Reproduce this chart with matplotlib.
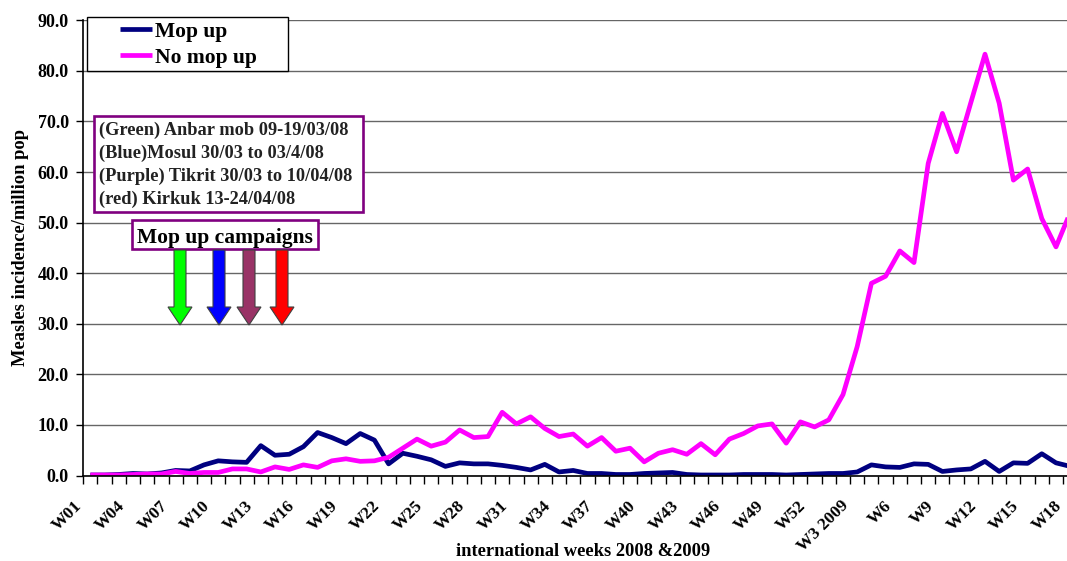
import numpy as np
import matplotlib
matplotlib.use("Agg")
import matplotlib.pyplot as plt
from matplotlib.patches import Rectangle, Polygon
from matplotlib.transforms import ScaledTranslation

# weekly values (W01 2008 .. W18 2009)
mop_up = [0.1, 0.1, 0.2, 0.4, 0.3, 0.5, 1.0, 0.9, 2.1, 2.9,
          2.7, 2.6, 5.9, 4.0, 4.2, 5.7, 8.5, 7.5, 6.3, 8.3,
          7.0, 2.3, 4.4, 3.8, 3.1, 1.8, 2.5, 2.3, 2.3, 2.0,
          1.6, 1.1, 2.2, 0.7, 1.0, 0.4, 0.4, 0.2, 0.2, 0.4,
          0.5, 0.6, 0.2, 0.1, 0.1, 0.1, 0.2, 0.2, 0.2, 0.1,
          0.2, 0.3, 0.4, 0.4, 0.7, 2.1, 1.7, 1.6, 2.3, 2.2,
          0.8, 1.1, 1.3, 2.8, 0.8, 2.5, 2.4, 4.3, 2.5, 1.8]
no_mop_up = [0.1, 0.1, 0.1, 0.2, 0.3, 0.3, 0.8, 0.4, 0.6, 0.6,
             1.3, 1.3, 0.7, 1.7, 1.2, 2.1, 1.6, 2.9, 3.3, 2.8,
             2.9, 3.6, 5.4, 7.2, 5.8, 6.6, 9.0, 7.5, 7.7, 12.5,
             10.2, 11.6, 9.3, 7.7, 8.2, 5.8, 7.5, 4.8, 5.4, 2.7,
             4.4, 5.1, 4.2, 6.3, 4.1, 7.2, 8.3, 9.8, 10.2, 6.4,
             10.6, 9.6, 11.0, 16.0, 25.5, 38.0, 39.4, 44.4, 42.1, 61.7,
             71.6, 64.0, 73.7, 83.3, 73.6, 58.4, 60.6, 50.8, 45.2, 52.0]
tick_labels = ["W01", "W04", "W07", "W10", "W13", "W16", "W19", "W22", "W25",
               "W28", "W31", "W34", "W37", "W40", "W43", "W46", "W49", "W52",
               "W3 2009", "W6", "W9", "W12", "W15", "W18"]
campaigns = ["(Green) Anbar mob 09-19/03/08",
             "(Blue)Mosul 30/03 to 03/4/08",
             "(Purple) Tikrit 30/03 to 10/04/08",
             "(red) Kirkuk 13-24/04/08"]
arrow_colors = ["#00FF00", "#0000FF", "#993366", "#FF0000"]

W, H = 1067, 561
serif = "Liberation Serif"
plt.rcParams["font.family"] = serif
plt.rcParams["font.weight"] = "bold"
plt.rcParams["axes.labelweight"] = "bold"

n = len(mop_up)
step = 14.2  # px per week
x0 = 83.3
fig = plt.figure(figsize=(W / 100, H / 100), dpi=100)
# plot area runs a little past the right edge of the picture (cropped)
ax = fig.add_axes([x0 / W, 1 - 475.5 / H, n * step / W, (475.5 - 20.3) / H])

x = np.arange(n)
l1, = ax.plot(x, mop_up, color="#000080", lw=3.4, label="Mop up", solid_capstyle="butt")
l2, = ax.plot(x, no_mop_up, color="#FF00FF", lw=3.4, label="No mop up", solid_capstyle="butt")

ax.set_yticks(np.arange(0, 91, 10))
ax.set_yticklabels([f"{v:.1f}" for v in np.arange(0, 91, 10)])
ax.yaxis.grid(True, color="#666666", lw=1)
ax.set_axisbelow(True)
for s in ["top", "right"]:
    ax.spines[s].set_visible(False)
ax.spines["left"].set_linewidth(1.2)
ax.spines["bottom"].set_linewidth(1.2)
ax.tick_params(axis="y", length=5, width=1, pad=5.5, labelsize=13)

ax.set_xticks(np.arange(0, n, 3))
ax.set_xticklabels(tick_labels, rotation=45, ha="right", va="top", fontsize=12.5)
ax.set_xticks(np.arange(-0.5, n, 1), minor=True)
ax.tick_params(axis="x", which="major", length=0, pad=16)
ax.tick_params(axis="x", which="minor", length=6, width=1)
off = ScaledTranslation(-5 / 100, 0, fig.dpi_scale_trans)
for lab in ax.get_xticklabels():
    lab.set_transform(lab.get_transform() + off)
ax.set_xlim(-0.5, n - 0.5)
ax.set_ylim(0, 90)

ax.set_xlabel("international weeks 2008 &2009", fontsize=13.3)
ax.xaxis.set_label_coords((583 - x0) / (n * step), -0.148)
ax.set_ylabel("Measles incidence/million pop", fontsize=13.3)
ax.yaxis.set_label_coords((29 - x0) / (n * step), 0.5)


def fx(px):
    return px / W


def fy(py):
    return 1 - py / H


# legend
fig.add_artist(Rectangle((fx(87), fy(71)), fx(288) - fx(87), fy(17) - fy(71),
                         transform=fig.transFigure, fill=True, fc="white",
                         ec="black", lw=1, zorder=5))
leg = fig.legend(handles=[l1, l2], loc="upper left", bbox_to_anchor=(fx(120), fy(21.5)),
                 frameon=False, borderpad=0, borderaxespad=0,
                 handlelength=1.48, handletextpad=0.14, labelspacing=0.29,
                 prop={"family": serif, "weight": "bold", "size": 15.5})
leg.set_zorder(6)

# campaign box
fig.add_artist(Rectangle((fx(94), fy(212)), fx(363) - fx(94), fy(116) - fy(212),
                         transform=fig.transFigure, fill=True, fc="white",
                         ec="#800080", lw=1.9, zorder=5))
for k, txt in enumerate(campaigns):
    fig.text(fx(99), fy(135 + 23 * k), txt, fontsize=13.2, color="#222222",
             va="baseline", ha="left", zorder=6)

fig.add_artist(Rectangle((fx(132), fy(249)), fx(318) - fx(132), fy(220) - fy(249),
                         transform=fig.transFigure, fill=True, fc="white",
                         ec="#800080", lw=1.9, zorder=5))
fig.text(fx(137), fy(243), "Mop up campaigns", fontsize=15.5, color="black",
         va="baseline", ha="left", zorder=6)

# down arrows
for cx, col in zip([180, 219, 249, 282], arrow_colors):
    pts = [(cx - 6, 250), (cx + 6, 250), (cx + 6, 307), (cx + 12, 307),
           (cx, 325), (cx - 12, 307), (cx - 6, 307)]
    fig.add_artist(Polygon([(fx(a), fy(b)) for a, b in pts], closed=True,
                           transform=fig.transFigure, fc=col, ec="#404040",
                           lw=0.8, zorder=5))

fig.savefig("out.png", dpi=100)
